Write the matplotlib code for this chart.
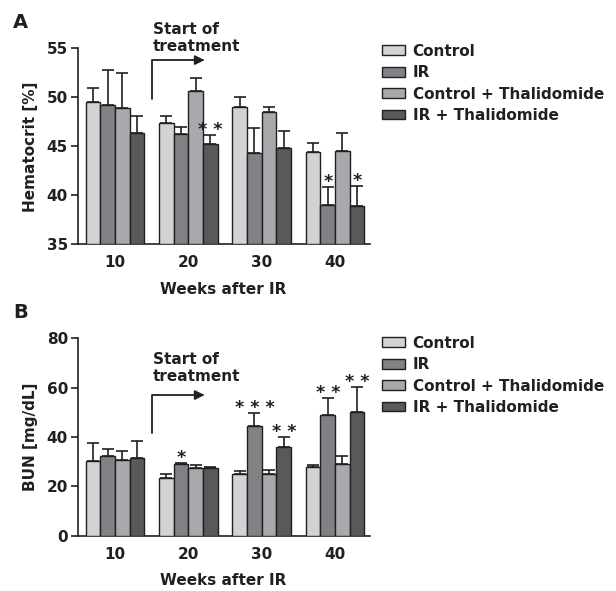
import numpy as np
import matplotlib
matplotlib.use('Agg')
import matplotlib.pyplot as plt
from matplotlib.patches import Patch

plt.rcParams['font.family'] = ['DejaVu Sans']
plt.rcParams['font.weight'] = 'bold'
plt.rcParams['axes.labelweight'] = 'bold'
plt.rcParams['font.size'] = 11

weeks = ['10', '20', '30', '40']
groups = ['Control', 'IR', 'Control + Thalidomide', 'IR + Thalidomide']
colors = ['#d1d3d4', '#808285', '#a7a9ac', '#58595b']
ink = '#231f20'

# hematocrit [%] (mean, upper error bar top)
hct_ctrl = [49.55, 47.4, 49.0, 44.4]
hct_ir = [49.2, 46.3, 44.35, 39.05]
hct_ctrl_thal = [48.9, 50.6, 48.5, 44.55]
hct_ir_thal = [46.4, 45.2, 44.8, 38.9]
hct_ctrl_top = [51.0, 48.1, 50.0, 45.3]
hct_ir_top = [52.8, 47.0, 46.9, 40.9]
hct_ctrl_thal_top = [52.5, 52.0, 49.0, 46.4]
hct_ir_thal_top = [48.05, 46.15, 46.55, 41.0]
hct_stars = [['', '', '', ''], ['', '', '', '*'], ['', '', '', ''], ['', '* *', '', '*']]

# BUN [mg/dL]
bun_ctrl = [30.3, 23.2, 25.0, 27.8]
bun_ir = [32.3, 29.2, 44.3, 48.8]
bun_ctrl_thal = [30.5, 27.4, 25.0, 29.2]
bun_ir_thal = [31.6, 27.4, 35.9, 50.1]
bun_ctrl_top = [37.4, 25.1, 26.2, 28.8]
bun_ir_top = [35.3, 29.5, 49.7, 55.7]
bun_ctrl_thal_top = [34.3, 28.8, 26.5, 32.3]
bun_ir_thal_top = [38.2, 27.7, 39.9, 60.4]
bun_stars = [['', '', '', ''], ['', '*', '* * *', '* *'], ['', '', '', ''], ['', '', '* *', '* *']]


def panel(ax, means, tops, stars, ylim, yticks, ylabel, arrow_y, text_y):
    x = np.arange(1, len(weeks) + 1)
    w = 0.2
    for i, (m, t) in enumerate(zip(means, tops)):
        xi = x + (i - 1.5) * w
        m = np.array(m)
        err = np.array(t) - m
        ax.bar(xi, m - ylim[0], w, bottom=ylim[0], color=colors[i], edgecolor=ink,
               linewidth=1.0, zorder=3)
        ax.errorbar(xi, m, yerr=[np.zeros_like(err), err], fmt='none', ecolor=ink,
                    elinewidth=1.2, capsize=4, capthick=1.2, zorder=2)
    for i in range(4):
        for j in range(4):
            if stars[i][j]:
                ax.text(x[j] + (i - 1.5) * w, tops[i][j], stars[i][j], ha='center',
                        va='baseline', fontsize=12.5, color=ink)
    ax.set_xlim(0.49, 4.47)
    ax.set_ylim(*ylim)
    ax.set_yticks(yticks)
    ax.set_xticks(x)
    ax.set_xticklabels(weeks)
    ax.tick_params(axis='x', length=0, pad=8, labelsize=11, colors=ink)
    ax.tick_params(axis='y', length=5, width=1.2, pad=2, labelsize=11, colors=ink)
    for s in ['top', 'right']:
        ax.spines[s].set_visible(False)
    for s in ['left', 'bottom']:
        ax.spines[s].set_linewidth(1.2)
        ax.spines[s].set_color(ink)
    ax.set_xlabel('Weeks after IR', fontsize=11, color=ink, labelpad=8)
    ax.set_ylabel(ylabel, fontsize=11, color=ink, labelpad=6)
    ax.annotate('', xy=(2.22, arrow_y[1]), xytext=(1.5, arrow_y[0]),
                arrowprops=dict(arrowstyle='-|>', color=ink, lw=1.3, mutation_scale=14,
                                shrinkA=0, shrinkB=0,
                                connectionstyle='angle,angleA=90,angleB=0,rad=0'),
                annotation_clip=False)
    ax.text(1.52, text_y, 'Start of\ntreatment', ha='left', va='bottom', fontsize=11,
            color=ink, linespacing=1.15, clip_on=False)


fig = plt.figure(figsize=(6.16, 5.91), dpi=100)
axA = fig.add_axes([0.126, 0.5866, 0.474, 0.3316])
axB = fig.add_axes([0.126, 0.0936, 0.474, 0.334])

panel(axA, [hct_ctrl, hct_ir, hct_ctrl_thal, hct_ir_thal],
      [hct_ctrl_top, hct_ir_top, hct_ctrl_thal_top, hct_ir_thal_top], hct_stars,
      (35, 55), [35, 40, 45, 50, 55], 'Hematocrit [%]', (49.85, 53.8), 54.46)
panel(axB, [bun_ctrl, bun_ir, bun_ctrl_thal, bun_ir_thal],
      [bun_ctrl_top, bun_ir_top, bun_ctrl_thal_top, bun_ir_thal_top], bun_stars,
      (0, 80), [0, 20, 40, 60, 80], 'BUN [mg/dL]', (41.7, 57.0), 61.4)

handles = [Patch(facecolor=c, edgecolor=ink, linewidth=1.0) for c in colors]
for cy in [83.3, 375.3]:
    fig.legend(handles, groups, loc='center left', bbox_to_anchor=(382 / 616, 1 - cy / 591),
               frameon=False, fontsize=11, handlelength=1.5, handleheight=0.6,
               handletextpad=0.5, labelspacing=0.42, borderpad=0, borderaxespad=0,
               labelcolor=ink)

fig.text(13 / 616, 1 - 22 / 591, 'A', fontsize=14, ha='left', va='center', color=ink)
fig.text(13 / 616, 1 - 312 / 591, 'B', fontsize=14, ha='left', va='center', color=ink)

fig.savefig('out.png', dpi=100)
